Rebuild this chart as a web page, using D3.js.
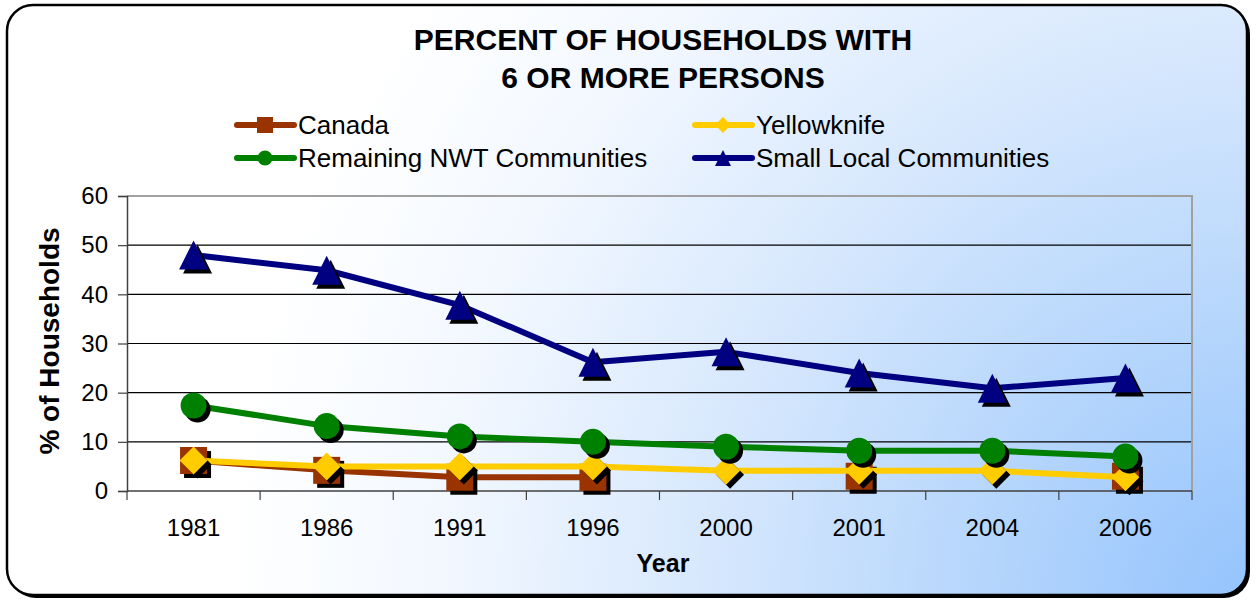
<!DOCTYPE html>
<html>
<head>
<meta charset="utf-8">
<script src="https://cdn.jsdelivr.net/npm/d3@7"></script>
<style>
  html, body { margin: 0; padding: 0; background: #ffffff; }
  svg { display: block; font-family: "Liberation Sans", Arial, sans-serif; }
</style>
</head>
<body>
<svg id="chart" width="1260" height="602"></svg>
<script>
// Census / survey years on the category axis
const years = ["1981", "1986", "1991", "1996", "2000", "2001", "2004", "2006"];
// Percent of households with 6 or more persons (null = no value for that year)
const canada = [6.2, 4.2, 2.8, 2.8, null, 3.0, null, 3.0];
const yellowknife = [6.2, 5.0, 5.0, 5.0, 4.1, 4.1, 4.1, 2.8];
const remainingNWT = [17.4, 13.2, 11.1, 10.0, 9.0, 8.2, 8.2, 7.0];
const smallLocal = [48.0, 44.9, 37.8, 26.2, 28.3, 24.0, 20.9, 23.0];
const yTicks = [0, 10, 20, 30, 40, 50, 60];
const seriesNames = ["Canada", "Yellowknife", "Remaining NWT Communities", "Small Local Communities"];

const series = [
  { name: seriesNames[0], values: canada, color: "#993300", marker: "square" },
  { name: seriesNames[1], values: yellowknife, color: "#FFCC00", marker: "diamond" },
  { name: seriesNames[2], values: remainingNWT, color: "#008000", marker: "circle" },
  { name: seriesNames[3], values: smallLocal, color: "#000080", marker: "triangle" }
];

const svg = d3.select("#chart");
const defs = svg.append("defs");

// Chart-area fill: white fading into light blue toward the lower right corner
const bg = defs.append("radialGradient")
  .attr("id", "bgGrad")
  .attr("gradientUnits", "userSpaceOnUse")
  .attr("cx", 1260).attr("cy", 602).attr("r", 1150);
[[0, "#93c3fd"], [0.25, "#b6d6fc"], [0.5, "#d9e9fd"], [0.72, "#f3f8ff"], [0.9, "#ffffff"], [1, "#ffffff"]]
  .forEach(([o, c]) => bg.append("stop").attr("offset", o).attr("stop-color", c));

// Rounded frame with a dark drop shadow
svg.append("rect")
  .attr("x", 10).attr("y", 8).attr("width", 1240).attr("height", 590)
  .attr("rx", 26).attr("fill", "#000");
svg.append("rect")
  .attr("x", 7).attr("y", 5).attr("width", 1240).attr("height", 590)
  .attr("rx", 26).attr("fill", "url(#bgGrad)")
  .attr("stroke", "#000").attr("stroke-width", 2.5);

// Plot area
const plot = { left: 127, right: 1192, top: 196, bottom: 491 };

const x = d3.scaleBand().domain(years).range([plot.left, plot.right]);
const y = d3.scaleLinear().domain([0, 60]).range([plot.bottom, plot.top]);

// Horizontal gridlines
svg.append("g")
  .selectAll("line")
  .data(yTicks.filter(t => t > 0 && t < 60))
  .join("line")
  .attr("x1", plot.left).attr("x2", plot.right)
  .attr("y1", d => y(d)).attr("y2", d => y(d))
  .attr("stroke", "#000").attr("stroke-width", 1.2);

// Plot-area border (top and right)
svg.append("path")
  .attr("d", `M${plot.left},${y(60)}H${plot.right}V${plot.bottom}`)
  .attr("fill", "none").attr("stroke", "#a0a0a0").attr("stroke-width", 2);

// Y axis
const yAxis = svg.append("g")
  .attr("transform", `translate(${plot.left},0)`)
  .call(d3.axisLeft(y).tickValues(yTicks).tickSize(9).tickPadding(10).tickFormat(d3.format("d")));
yAxis.select(".domain").attr("stroke", "#404040").attr("stroke-width", 1.5);
yAxis.selectAll(".tick line").attr("stroke", "#404040").attr("stroke-width", 1.2);
yAxis.selectAll(".tick text")
  .attr("font-size", 24).attr("fill", "#000")
  .attr("font-family", "Liberation Sans, Arial, sans-serif");

// X axis: ticks at the category boundaries, labels at centres
const xAxisG = svg.append("g").attr("transform", `translate(0,${plot.bottom})`);
xAxisG.append("line")
  .attr("x1", plot.left).attr("x2", plot.right)
  .attr("stroke", "#404040").attr("stroke-width", 1.5);
const boundaries = years.map(yr => x(yr)).concat([x(years[years.length - 1]) + x.bandwidth()]);
xAxisG.selectAll("line.tick")
  .data(boundaries)
  .join("line")
  .attr("class", "tick")
  .attr("x1", d => d).attr("x2", d => d)
  .attr("y1", 0).attr("y2", 9)
  .attr("stroke", "#404040").attr("stroke-width", 1.2);
xAxisG.selectAll("text")
  .data(years)
  .join("text")
  .attr("x", d => x(d) + x.bandwidth() / 2)
  .attr("y", 45)
  .attr("text-anchor", "middle")
  .attr("font-size", 24)
  .text(d => d);

// Axis titles
svg.append("text")
  .attr("x", 663).attr("y", 572)
  .attr("text-anchor", "middle")
  .attr("font-size", 25).attr("font-weight", "bold")
  .text("Year");
svg.append("text")
  .attr("transform", "translate(59,341) rotate(-90)")
  .attr("text-anchor", "middle")
  .attr("font-size", 28).attr("font-weight", "bold")
  .text("% of Households");

// Title
const title = svg.append("text")
  .attr("text-anchor", "middle")
  .attr("font-size", 30).attr("font-weight", "bold");
title.append("tspan").attr("x", 663).attr("y", 50).text("PERCENT OF HOUSEHOLDS WITH");
title.append("tspan").attr("x", 663).attr("y", 88).text("6 OR MORE PERSONS");

// Marker shapes, centred on (0,0)
function markerPath(type, s) {
  const h = s / 2;
  switch (type) {
    case "square": return `M${-h},${-h}H${h}V${h}H${-h}Z`;
    case "diamond": return `M0,${-h}L${h},0L0,${h}L${-h},0Z`;
    case "triangle": return `M0,${-h}L${h},${h}L${-h},${h}Z`;
    default: return `M${-h},0A${h},${h} 0 1,0 ${h},0A${h},${h} 0 1,0 ${-h},0Z`;
  }
}
const markerSize = { square: 27, diamond: 28, circle: 26, triangle: 29 };

const cx = d => x(d) + x.bandwidth() / 2;
const line = d3.line()
  .defined(d => d.v !== null)
  .x(d => cx(d.year))
  .y(d => y(d.v));

// Series: line, then shadowed markers
series.forEach(s => {
  const pts = years.map((yr, i) => ({ year: yr, v: s.values[i] }));
  const g = svg.append("g");
  g.append("path")
    .datum(pts)
    .attr("d", line)
    .attr("fill", "none")
    .attr("stroke", s.color)
    .attr("stroke-width", 6)
    .attr("stroke-linejoin", "round");
  const valid = pts.filter(p => p.v !== null);
  g.selectAll("path.shadow")
    .data(valid)
    .join("path")
    .attr("class", "shadow")
    .attr("d", markerPath(s.marker, markerSize[s.marker]))
    .attr("transform", p => `translate(${cx(p.year) + 4},${y(p.v) + 4})`)
    .attr("fill", "#000");
  g.selectAll("path.mark")
    .data(valid)
    .join("path")
    .attr("class", "mark")
    .attr("d", markerPath(s.marker, markerSize[s.marker]))
    .attr("transform", p => `translate(${cx(p.year)},${y(p.v)})`)
    .attr("fill", s.color);
});

// Legend (two columns, two rows)
const legendPos = [
  { x: 235, y: 125 }, { x: 693, y: 125 },
  { x: 235, y: 158 }, { x: 693, y: 158 }
];
series.forEach((s, i) => {
  const p = legendPos[i];
  const g = svg.append("g").attr("transform", `translate(${p.x},${p.y})`);
  g.append("line")
    .attr("x1", 2).attr("x2", 59)
    .attr("stroke", s.color).attr("stroke-width", 6).attr("stroke-linecap", "round");
  g.append("path")
    .attr("d", markerPath(s.marker, s.marker === "circle" ? 15 : 16))
    .attr("transform", "translate(30,0)")
    .attr("fill", s.color);
  g.append("text")
    .attr("x", 63).attr("y", 0).attr("dy", "0.36em")
    .attr("font-size", 26)
    .text(s.name);
});
</script>
</body>
</html>
